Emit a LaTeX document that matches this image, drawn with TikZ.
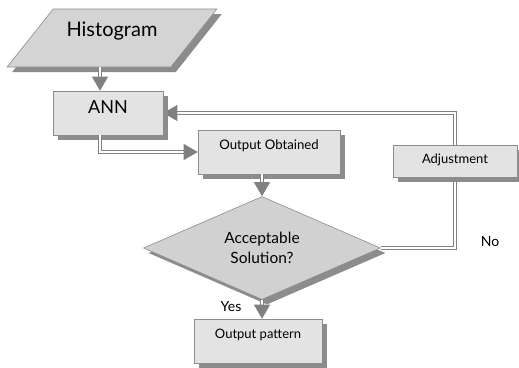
\documentclass[tikz,border=0pt]{standalone}
\usepackage{fontspec}
\setmainfont{Lato}
\usetikzlibrary{shapes.geometric,arrows.meta,shadows,backgrounds}

\tikzset{
  box/.style={draw=black!45, fill=black!11, line width=0.6pt, inner sep=0pt,
    drop shadow={shadow xshift=5pt,shadow yshift=-5pt,fill=black!45,opacity=1}},
  flow/.style={draw=black!50, double=white, double distance=2.2pt, line width=0.8pt,
    -{Triangle[length=14pt,width=16pt,fill=black!50,color=black!50]}},
  tag/.style={font=\fontsize{14}{16}\selectfont}
}

\begin{document}
\begin{tikzpicture}[x=1pt,y=-1pt]
            \useasboundingbox (0,0) rectangle (519,367);
            \node[box, fill=black!17, trapezium, trapezium left angle=42, trapezium right angle=138,
              trapezium stretches=true, minimum width=210pt, minimum height=58pt,
              text height=14pt, text depth=18pt, font=\fontsize{20}{24}\selectfont] (hist) at (112,38) {Histogram};
            \node[box, minimum width=110pt, minimum height=44pt, text height=12.6pt, text depth=12pt,
              font=\fontsize{18}{20}\selectfont] (ann) at (108,113) {ANN};
            \node[box, minimum width=142pt, minimum height=44pt, text height=9pt, text depth=15pt,
              font=\fontsize{13.2}{15}\selectfont] (obt) at (269,152) {Output Obtained};
            \node[box, minimum width=124pt, minimum height=32pt, text height=9.3pt, text depth=5pt,
              font=\fontsize{13}{15}\selectfont] (adj) at (455,161) {Adjustment};
            \node[box, fill=black!18, diamond, aspect=2.3, minimum width=237pt, minimum height=103pt,
              align=center, font=\fontsize{15.5}{20}\selectfont] (sol) at (262,248) {Acceptable\\Solution?};
            \node[box, minimum width=128pt, minimum height=44pt, text height=8.3pt, text depth=14pt,
              font=\fontsize{13}{15}\selectfont] (pat) at (258,341) {Output pattern};
            \node[tag] (yes) at (231,307) {Yes};
            \node[tag] (no) at (490,242) {No};

            \draw[flow] ([xshift=-8pt]hist.south -| ann.north) to ([xshift=-8pt]ann.north);
            \draw[flow] ([xshift=-8pt]ann.south) |- (obt.west);
            \draw[flow] (obt.south -| sol.north) to (sol.north);
            \draw[flow] (sol.south) to (sol.south |- pat.north);
            \begin{scope}[on background layer]
              \draw[flow] (sol.east) -| (adj.center |- ann.east) to (ann.east);
            \end{scope}
          \end{tikzpicture}
\end{document}
